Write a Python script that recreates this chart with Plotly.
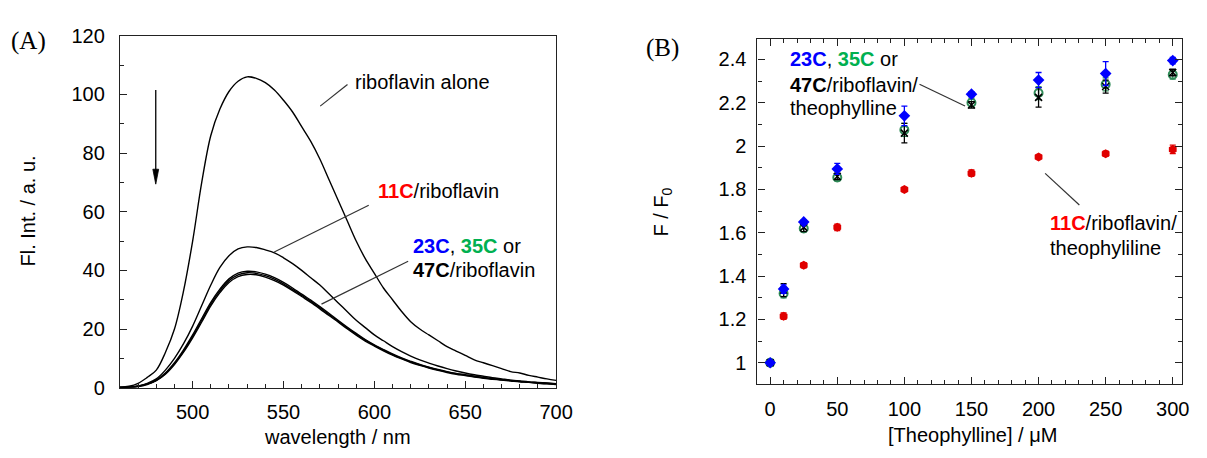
import plotly.graph_objects as go

# ---------------- Panel (A): emission spectra ----------------
wavelength_nm = list(range(460, 705, 5))

riboflavin_alone = [0.2, 0.5, 1.5, 3.5, 6, 12, 20, 33, 50, 70,
                    86, 95, 101, 104.5, 106, 105.5, 104, 101.5, 98, 94,
                    89, 84, 78, 71, 64, 57, 50, 44, 39, 34,
                    30, 26, 22.5, 20, 18, 16, 14, 12.5, 11, 9.5,
                    8.5, 7.5, 6.5, 5.5, 5, 4.2, 3.6, 3, 2.5]

c11_riboflavin = [0.1, 0.2, 0.6, 1.5, 3, 6, 10, 15, 21, 28,
                  35, 41, 45, 47.3, 48, 47.8, 47, 46, 44.3, 42.3,
                  40, 37.5, 35, 32, 29, 26, 23, 20.5, 18, 16,
                  14, 12.3, 10.8, 9.5, 8.4, 7.4, 6.5, 5.7, 5, 4.4,
                  3.9, 3.4, 3, 2.6, 2.3, 2, 1.8, 1.6, 1.4]

c23_riboflavin = [0.1, 0.2, 0.5, 1.3, 2.6, 5.0, 8.5, 12.9, 18.0, 23.6,
                  29.1, 33.6, 37.1, 39.1, 39.7, 39.5, 38.7, 37.5, 35.9, 34.0,
                  31.9, 29.9, 27.7, 25.4, 23.0, 20.7, 18.5, 16.4, 14.6, 13.0,
                  11.5, 10.2, 9.0, 7.9, 7.0, 6.2, 5.5, 4.9, 4.4, 3.9,
                  3.5, 3.1, 2.8, 2.5, 2.2, 1.9, 1.7, 1.5, 1.3]

c35_riboflavin = [0.1, 0.2, 0.5, 1.2, 2.5, 4.8, 8.2, 12.5, 17.5, 23,
                  28.5, 33, 36.5, 38.5, 39.2, 39, 38.2, 37, 35.4, 33.5,
                  31.5, 29.5, 27.3, 25, 22.7, 20.4, 18.2, 16.2, 14.4, 12.8,
                  11.3, 10, 8.8, 7.8, 6.9, 6.1, 5.4, 4.8, 4.3, 3.8,
                  3.4, 3, 2.7, 2.4, 2.1, 1.9, 1.6, 1.4, 1.2]

c47_riboflavin = [0.1, 0.2, 0.4, 1.1, 2.4, 4.6, 7.9, 12.1, 17.0, 22.4,
                  27.9, 32.4, 35.9, 37.9, 38.6, 38.5, 37.7, 36.5, 35.0, 33.1,
                  31.1, 29.1, 26.9, 24.6, 22.4, 20.1, 17.9, 15.9, 14.2, 12.6,
                  11.1, 9.8, 8.6, 7.6, 6.7, 5.9, 5.2, 4.6, 4.1, 3.6,
                  3.2, 2.9, 2.6, 2.3, 2.0, 1.8, 1.5, 1.3, 1.1]

# ---------------- Panel (B): titration ----------------
theophylline_uM = [0, 10, 25, 50, 100, 150, 200, 250, 300]

ff0_23c = [1.0, 1.34, 1.65, 1.895, 2.14, 2.24, 2.305, 2.335, 2.395]
err_23c = [0.01, 0.02, 0.01, 0.025, 0.045, 0.012, 0.035, 0.055, 0.015]
ff0_35c = [1.0, 1.32, 1.62, 1.855, 2.075, 2.2, 2.245, 2.285, 2.33]
err_35c = [0.015, 0.02, 0.015, 0.015, 0.03, 0.02, 0.03, 0.03, 0.02]
ff0_47c = [1.0, 1.335, 1.625, 1.86, 2.06, 2.19, 2.225, 2.275, 2.34]
err_47c = [0.01, 0.03, 0.02, 0.015, 0.045, 0.015, 0.045, 0.03, 0.015]
ff0_11c = [1.0, 1.215, 1.45, 1.625, 1.80, 1.875, 1.95, 1.965, 1.985]
err_11c = [0.01, 0.015, 0.012, 0.015, 0.01, 0.015, 0.008, 0.012, 0.02]

FONT = "Arial, Liberation Sans, sans-serif"
SERIF = "Times New Roman, Liberation Serif, serif"
RED = "#ff0000"
BLUE = "#0000ff"
GREEN = "#00b050"

fig = go.Figure()

# spectra
for ys in (riboflavin_alone, c11_riboflavin, c23_riboflavin, c35_riboflavin, c47_riboflavin):
    fig.add_trace(go.Scatter(x=wavelength_nm, y=ys, mode="lines",
                             line=dict(color="black", width=1.4, shape="spline"),
                             xaxis="x", yaxis="y", showlegend=False, hoverinfo="skip"))

# titration points
def points(y, err, color, symbol, size, line_color=None, line_width=0):
    return go.Scatter(
        x=theophylline_uM, y=y, mode="markers",
        error_y=dict(type="data", array=err, color=color, thickness=1.3, width=3),
        marker=dict(color=color, symbol=symbol, size=size,
                    line=dict(color=line_color or color, width=line_width)),
        xaxis="x2", yaxis="y2", showlegend=False, hoverinfo="skip")

fig.add_trace(points(ff0_11c, err_11c, "#e00000", "hexagon", 9))
fig.add_trace(points(ff0_35c, err_35c, "#2e8b57", "circle-open", 8, line_width=2))
fig.add_trace(points(ff0_47c, err_47c, "black", "x-thin-open", 7, line_width=1.5))
fig.add_trace(points(ff0_23c, err_23c, BLUE, "diamond", 9))

axis_common = dict(showline=True, linecolor="#222", linewidth=1.2, showgrid=False,
                   zeroline=False, ticks="inside", tickcolor="#222",
                   tickfont=dict(family=FONT, size=20, color="black"))

fig.update_layout(
    width=1207, height=458, margin=dict(l=0, r=0, t=0, b=0),
    paper_bgcolor="white", plot_bgcolor="white",
    xaxis=dict(domain=[0.1008, 0.4673], range=[460, 700], anchor="y",
               tickvals=[500, 550, 600, 650, 700], ticklen=7, mirror=True,
               minor=dict(ticks="inside", dtick=10, tick0=460, ticklen=4, tickcolor="#222"),
               ticklabelstandoff=6, **axis_common),
    yaxis=dict(domain=[0.1360, 0.9432], range=[0, 120], anchor="x",
               tickvals=[0, 20, 40, 60, 80, 100, 120], ticklen=7, mirror=True,
               minor=dict(ticks="inside", dtick=10, ticklen=4, tickcolor="#222"),
               ticklabelstandoff=10, **axis_common),
    xaxis2=dict(domain=[0.6365, 0.9934], range=[-9.5, 307], anchor="y2",
                tickvals=[0, 50, 100, 150, 200, 250, 300], ticklen=7, mirror="ticks",
                minor=dict(ticks="inside", dtick=10, ticklen=4, tickcolor="#222"),
                ticklabelstandoff=6, **axis_common),
    yaxis2=dict(domain=[0.1435, 0.936], range=[0.9, 2.495], anchor="x2",
                tickvals=[1, 1.2, 1.4, 1.6, 1.8, 2, 2.2, 2.4],
                ticktext=["1", "1.2", "1.4", "1.6", "1.8", "2", "2.2", "2.4"],
                ticklen=7, mirror="ticks",
                minor=dict(ticks="inside", dtick=0.1, tick0=0.9, ticklen=4, tickcolor="#222"),
                ticklabelstandoff=6, **axis_common),
)

def note(text, x, y, xref, yref, **kw):
    fig.add_annotation(text=text, x=x, y=y, xref=xref, yref=yref, showarrow=False,
                       font=dict(family=FONT, size=20, color="black"), **kw)

def leader(x0, y0, x1, y1, xref, yref):
    fig.add_shape(type="line", x0=x0, y0=y0, x1=x1, y1=y1, xref=xref, yref=yref,
                  line=dict(color="#333", width=1.2))

# panel A texts
note("riboflavin alone", 588.2, 104.1, "x", "y", xanchor="left", yanchor="middle")
leader(570.2, 96, 585.2, 103.4, "x", "y")
note(f"<b><span style='color:{RED}'>11C</span></b>/riboflavin", 600.7, 67.1, "x", "y",
     xanchor="left", yanchor="middle")
leader(596.9, 62.2, 544.9, 46.3, "x", "y")
note(f"<b><span style='color:{BLUE}'>23C</span></b>, <b><span style='color:{GREEN}'>35C</span></b> or",
     620.2, 48.3, "x", "y", xanchor="left", yanchor="middle")
note("<b>47C</b>/riboflavin", 620.2, 40.2, "x", "y", xanchor="left", yanchor="middle")
leader(618.6, 43.1, 570.9, 28.5, "x", "y")

# downward arrow: shaft plus filled head
fig.add_shape(type="line", x0=479.7, y0=101.5, x1=479.7, y1=73, xref="x", yref="y",
              line=dict(color="black", width=1.3))
fig.add_shape(type="path", xref="x", yref="y",
              path="M 478.1 74.5 L 481.3 74.5 L 479.7 69.4 Z",
              fillcolor="black", line=dict(color="black", width=0.8))

# panel B texts
note(f"<b><span style='color:{BLUE}'>23C</span></b>, <b><span style='color:{GREEN}'>35C</span></b> or",
     13.5, 2.401, "x2", "y2", xanchor="left", yanchor="middle")
note("<b>47C</b>/riboflavin/", 13.5, 2.284, "x2", "y2", xanchor="left", yanchor="middle")
note("theophylline", 13.5, 2.177, "x2", "y2", xanchor="left", yanchor="middle")
leader(111.3, 2.286, 145.2, 2.185, "x2", "y2")
note(f"<b><span style='color:{RED}'>11C</span></b>/riboflavin/", 207.1, 1.645, "x2", "y2",
     xanchor="left", yanchor="middle")
note("theophyliline", 207.1, 1.530, "x2", "y2", xanchor="left", yanchor="middle")
leader(204.9, 1.8745, 230.4, 1.728, "x2", "y2")

# axis titles and panel letters
note("wavelength / nm", 0.2833, 0.0218, "paper", "paper", xanchor="center", yanchor="middle")
note("Fl. Int. / a. u.", 0.0232, 0.5415, "paper", "paper", textangle=-90,
     xanchor="center", yanchor="middle")
note("[Theophylline] / μM", 0.8169, 0.0284, "paper", "paper", xanchor="center", yanchor="middle")
note("F / F<sub>0</sub>", 0.5568, 0.539, "paper", "paper", textangle=-90,
     xanchor="center", yanchor="middle")
fig.add_annotation(text="(A)", x=0.0236, y=0.9308, xref="paper", yref="paper", showarrow=False,
                   font=dict(family=SERIF, size=25, color="black"), xanchor="center", yanchor="middle")
fig.add_annotation(text="(B)", x=0.5568, y=0.9142, xref="paper", yref="paper", showarrow=False,
                   font=dict(family=SERIF, size=25, color="black"), xanchor="center", yanchor="middle")

fig.write_html("out.html")
